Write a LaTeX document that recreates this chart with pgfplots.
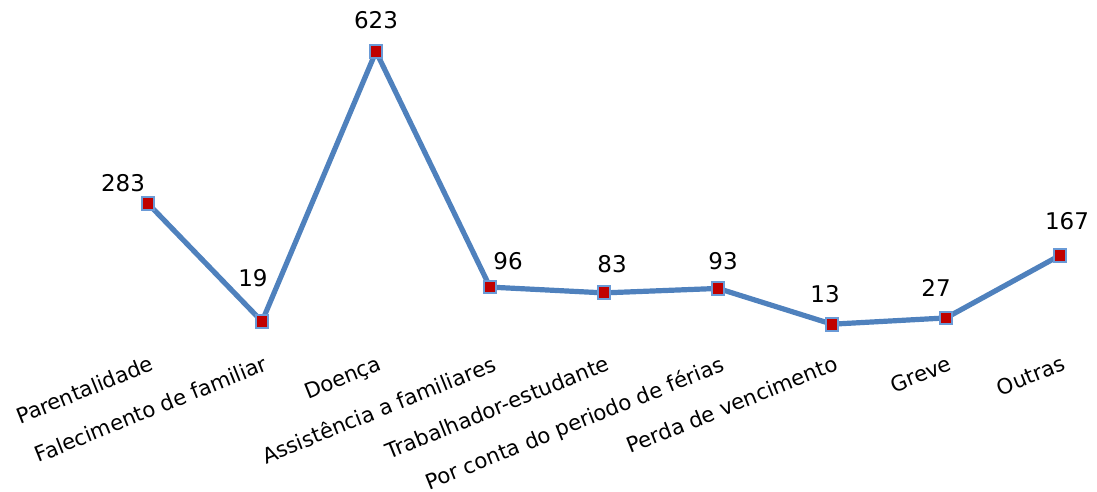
\documentclass[border=0pt]{standalone}
\usepackage{pgfplots}
\usepackage{pgfplotstable}
\pgfplotsset{compat=1.18}
\usepackage{fontspec}
\setmainfont{DejaVu Sans}
\definecolor{lineblue}{HTML}{4F81BD}
\definecolor{markred}{HTML}{C00000}
\definecolor{markedge}{HTML}{6A9AD6}

\pgfplotstableread{
x y dx dy
0 283 -12.5 10
1 19 -4.5 21.5
2 623 0 15.5
3 96 9 13
4 83 4 14.5
5 93 2.5 13.5
6 13 -3.5 15
7 27 -5 15
8 167 3.5 17
}\data

\begin{document}
\begin{tikzpicture}
\begin{axis}[
  x=57pt, y=0.2235pt,
  xmin=-0.5, xmax=8.5, ymin=0, ymax=700,
  clip=false,
  axis x line=bottom, axis y line=none,
  x axis line style={draw=none,-},
  major tick length=0pt,
  ytick=\empty,
  xtick={0,...,8},
  xticklabels={Parentalidade,Falecimento de familiar,Doença,Assistência a familiares,Trabalhador-estudante,Por conta do periodo de férias,Perda de vencimento,Greve,Outras},
  x tick label style={rotate=22, anchor=north east, inner sep=0pt, font=\fontsize{10.6pt}{12pt}\selectfont, yshift=-11.5pt, xshift=-4pt},
  /pgf/number format/assume math mode=true,
  visualization depends on={\thisrow{dx}\as\dx},
  visualization depends on={\thisrow{dy}\as\dy},
  nodes near coords,
  every node near coord/.append style={anchor=center, xshift=\dx pt, yshift=\dy pt, font=\fontsize{11.5pt}{13pt}\selectfont, text=black},
]
\addplot[color=lineblue, line width=2.6pt, mark=square*, mark size=3.2pt,
  mark options={fill=markred, draw=markedge, line width=1pt}] table[x=x,y=y] {\data};
\coordinate (O) at (axis cs:0,0);
\end{axis}
\pgfresetboundingbox
\path ([shift={(-74pt,-81pt)}]O) rectangle ([shift={(474.5pt,165pt)}]O);
\end{tikzpicture}
\end{document}
